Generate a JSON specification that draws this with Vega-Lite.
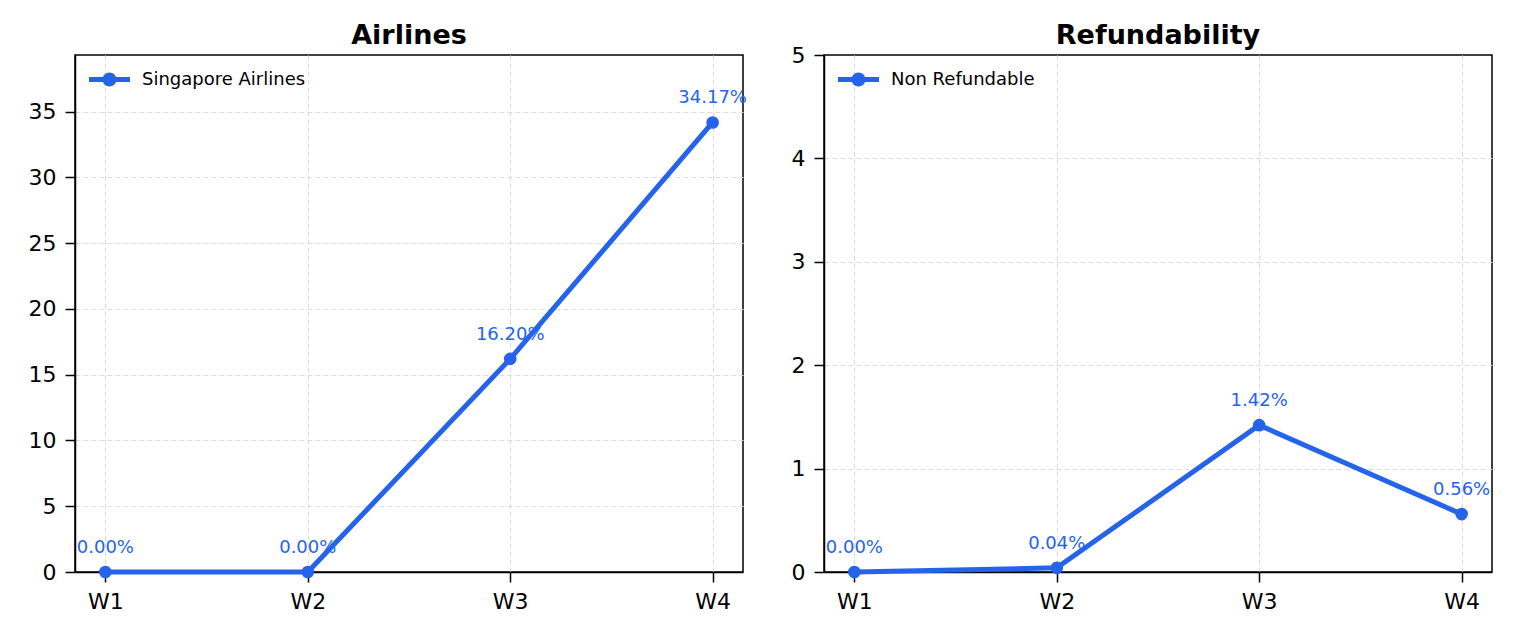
{
  "$schema": "https://vega.github.io/schema/vega-lite/v6.json",
  "padding": {"left": 27, "top": 21, "right": 5, "bottom": 5},
  "background": "white",
  "datasets": {
    "airlines": [
      {"week": "W1", "value": 0.0, "series": "Singapore Airlines"},
      {"week": "W2", "value": 0.0, "series": "Singapore Airlines"},
      {"week": "W3", "value": 16.2, "series": "Singapore Airlines"},
      {"week": "W4", "value": 34.17, "series": "Singapore Airlines"}
    ],
    "refund": [
      {"week": "W1", "value": 0.0, "series": "Non Refundable"},
      {"week": "W2", "value": 0.04, "series": "Non Refundable"},
      {"week": "W3", "value": 1.42, "series": "Non Refundable"},
      {"week": "W4", "value": 0.56, "series": "Non Refundable"}
    ]
  },
  "hconcat": [
    {
      "title": {"text": "Airlines", "offset": 5},
      "width": 668,
      "height": 517,
      "data": {"name": "airlines"},
      "transform": [{"calculate": "format(datum.value, '.2f') + '%'", "as": "label"}],
      "encoding": {
        "x": {"field": "week", "type": "ordinal", "sort": null, "scale": {"type": "point", "padding": 0.15}, "axis": {"title": null}},
        "y": {"field": "value", "type": "quantitative", "scale": {"domain": [0, 39.3], "nice": false}, "axis": {"title": null, "values": [0, 5, 10, 15, 20, 25, 30, 35]}}
      },
      "layer": [
        {"mark": {"type": "line", "color": "#2563eb", "strokeWidth": 5}},
        {
          "mark": {"type": "point", "filled": true, "opacity": 1, "size": 160},
          "encoding": {
            "color": {"field": "series", "type": "nominal", "scale": {"range": ["#2563eb"]}, "legend": {"title": null, "orient": "none", "legendX": 14, "legendY": 4}}
          }
        },
        {
          "mark": {"type": "text", "color": "#2563eb", "fontSize": 18, "baseline": "alphabetic", "dy": -19},
          "encoding": {"text": {"field": "label"}}
        }
      ]
    },
    {
      "title": {"text": "Refundability", "offset": -6},
      "width": 668,
      "height": 517,
      "data": {"name": "refund"},
      "transform": [{"calculate": "format(datum.value, '.2f') + '%'", "as": "label"}],
      "encoding": {
        "x": {"field": "week", "type": "ordinal", "sort": null, "scale": {"type": "point", "padding": 0.15}, "axis": {"title": null}},
        "y": {
          "field": "value",
          "type": "quantitative",
          "scale": {"domain": [0, 5], "nice": false},
          "axis": {
            "title": null,
            "values": [0, 1, 2, 3, 4, 5],
            "gridOpacity": {"condition": {"test": "datum.value == 5", "value": 0}, "value": 1}
          }
        }
      },
      "layer": [
        {"mark": {"type": "line", "color": "#2563eb", "strokeWidth": 5}},
        {
          "mark": {"type": "point", "filled": true, "opacity": 1, "size": 160},
          "encoding": {
            "color": {"field": "series", "type": "nominal", "scale": {"range": ["#2563eb"]}, "legend": {"title": null, "orient": "none", "legendX": 14, "legendY": 4}}
          }
        },
        {
          "mark": {"type": "text", "color": "#2563eb", "fontSize": 18, "baseline": "alphabetic", "dy": -19},
          "encoding": {"text": {"field": "label"}}
        }
      ]
    }
  ],
  "spacing": 42,
  "resolve": {"scale": {"color": "independent"}, "legend": {"color": "independent"}},
  "config": {
    "font": "DejaVu Sans",
    "view": {"stroke": "black", "strokeWidth": 1.5},
    "title": {"font": "DejaVu Sans", "fontSize": 27, "fontWeight": "bold", "color": "black", "anchor": "middle"},
    "axis": {
      "labelFont": "DejaVu Sans",
      "labelFontSize": 22,
      "labelColor": "black",
      "tickColor": "black",
      "tickSize": 10,
      "tickWidth": 1.5,
      "domainColor": "black",
      "domainWidth": 1.5,
      "grid": true,
      "gridColor": "#dcdcdc",
      "gridDash": [5, 3],
      "gridWidth": 1.2,
      "labelPadding": 9
    },
    "axisX": {"labelAngle": 0, "labelPadding": 9},
    "legend": {
      "labelFont": "DejaVu Sans",
      "labelFontSize": 18,
      "labelColor": "black",
      "labelOffset": 12,
      "labelLimit": 400,
      "symbolType": "M-1,-0.12H1V0.12H-1Z M0.34,0A0.34,0.34,0,1,1,-0.34,0A0.34,0.34,0,1,1,0.34,0Z",
      "symbolSize": 1681,
      "symbolStrokeWidth": 0,
      "symbolFillColor": "#2563eb",
      "symbolOpacity": 1
    }
  }
}
